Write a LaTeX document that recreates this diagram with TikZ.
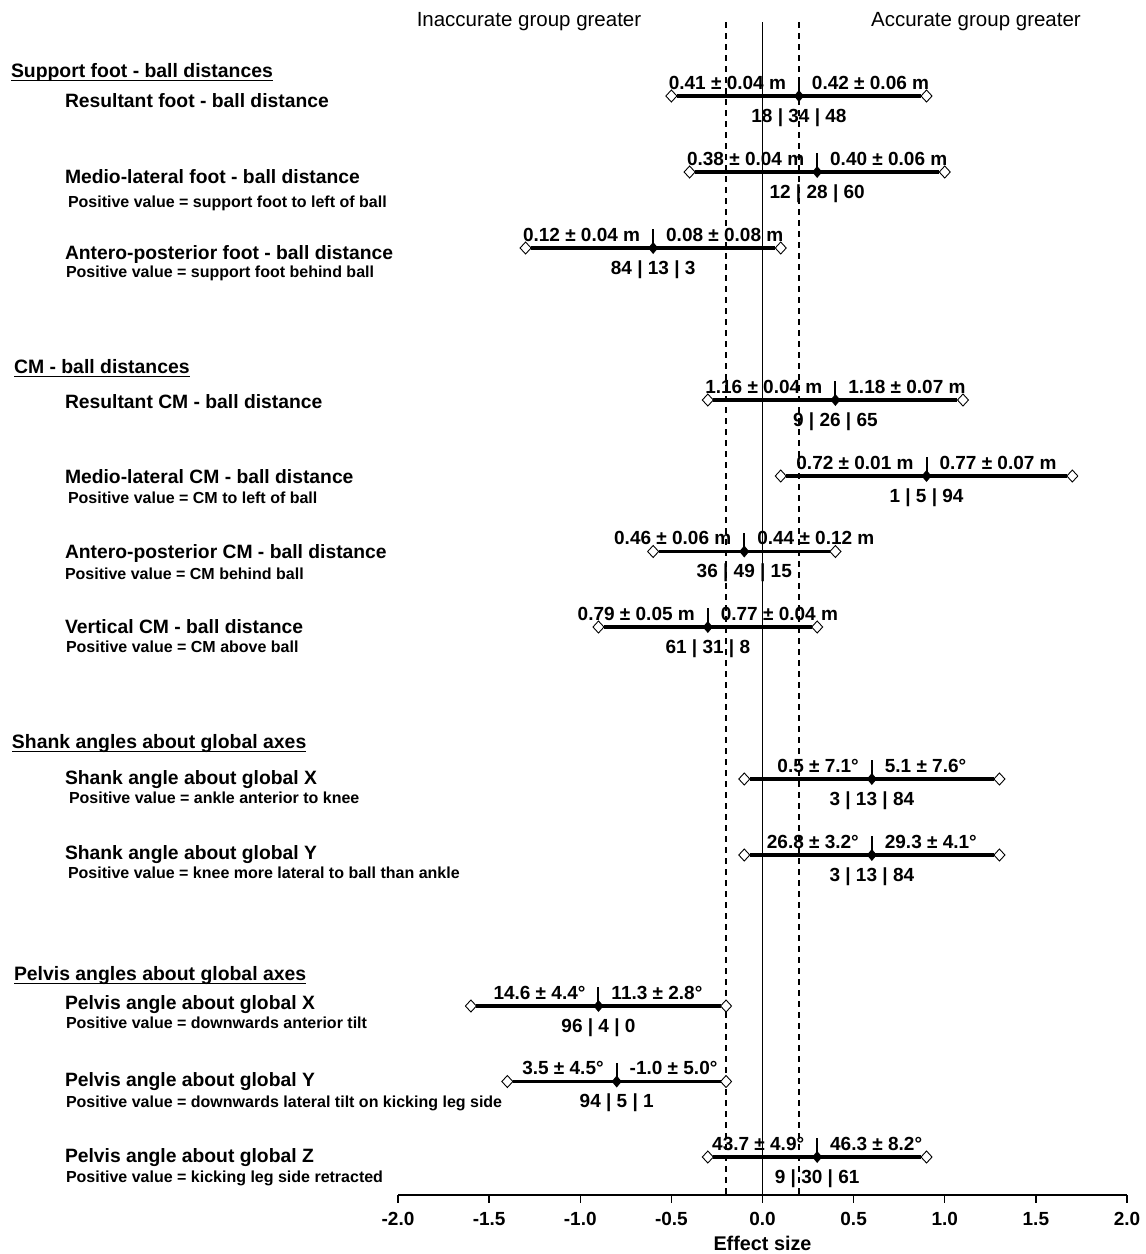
\documentclass[tikz,border=0pt]{standalone}
\usepackage{fontspec}
\setmainfont{Liberation Sans}
\usetikzlibrary{shapes.geometric,calc}
\newcommand{\fprow}[8]{%
  \coordinate (#1lo) at ({762.5+182.25*(#3)},#2);
  \coordinate (#1mc) at ({762.5+182.25*(#4)},#2);
  \coordinate (#1hi) at ({762.5+182.25*(#5)},#2);
  \node[opendia] (#1L) at (#1lo) {};
  \node[opendia] (#1R) at (#1hi) {};
  \draw[ciline] (#1L.east) -- (#1R.west);
  \coordinate (#1top) at ($(#1mc)+(0,-19)$);
  \draw[meantick] (#1mc) -- (#1top);
  \node[meandia] (#1M) at (#1mc) {};
  \node[val, anchor=base east] (#1a) at ($(#1mc)+(-13,-7)$) {#6};
  \node[val, anchor=base west] (#1b) at ($(#1mc)+(13,-7)$) {#7};
  \node[pct] (#1p) at ($(#1mc)+(0,26)$) {#8};
}
\begin{document}
\begin{tikzpicture}[x=1pt,y=-1pt,
  every node/.style={inner sep=0pt, outer sep=0pt},
  hdr/.style={anchor=base west, font=\fontsize{19.4}{22}\selectfont\bfseries},
  lbl/.style={anchor=base west, font=\fontsize{19.3}{22}\selectfont\bfseries},
  note/.style={anchor=base west, font=\fontsize{16}{18}\selectfont\bfseries},
  val/.style={font=\fontsize{19}{22}\selectfont\bfseries},
  pct/.style={anchor=base, font=\fontsize{19}{22}\selectfont\bfseries},
  ticklbl/.style={anchor=base, font=\fontsize{19}{22}\selectfont\bfseries},
  axttl/.style={anchor=base, font=\fontsize{19.8}{22}\selectfont\bfseries},
  grp/.style={anchor=base, font=\fontsize{20.5}{24}\selectfont},
  ciline/.style={line width=3.2pt},
  opendia/.style={diamond, draw, fill=white, line width=0.9pt, minimum width=11pt, minimum height=12pt},
  meandia/.style={diamond, fill=black, minimum width=10pt, minimum height=12pt},
  meantick/.style={line width=2pt},
  zeroline/.style={line width=1.3pt},
  refline/.style={line width=1.2pt, dash pattern=on 6pt off 5pt},
  axisline/.style={line width=1.6pt},
  tickmark/.style={line width=1.4pt},
  uline/.style={line width=1.3pt},
]
\fill[white] (0,0) rectangle (1146,1254);
\useasboundingbox (0,0) rectangle (1146,1254);

% group labels
\node[grp] (ginacc) at (529,26) {Inaccurate group greater};
\node[grp] (gacc) at (976,26) {Accurate group greater};

% axis
\coordinate (axL) at (398,1195);
\coordinate (axR) at (1127,1195);
\coordinate (zt) at (762.5,22);
\coordinate (zb) at (762.5,1195);
\coordinate (dlt) at (726,22);
\coordinate (dlb) at (726,1195);
\coordinate (drt) at (799,22);
\coordinate (drb) at (799,1195);
\draw[refline] (dlt) -- (dlb);
\draw[refline] (drt) -- (drb);
\draw[zeroline] (zt) -- (zb);
\draw[axisline] (axL) -- (axR);
\foreach \v/\t [count=\i] in {-2/-2.0,-1.5/-1.5,-1/-1.0,-0.5/-0.5,0/0.0,0.5/0.5,1/1.0,1.5/1.5,2/2.0}{
  \coordinate (tk\i) at ({762.5+182.25*(\v)},1195);
  \draw[tickmark] (tk\i) -- ++(0,8);
  \node[ticklbl] (tl\i) at ({762.5+182.25*(\v)},1225) {\t};
}
\node[axttl] (axt) at (762.5,1250) {Effect size};

% section headers
\node[hdr] (h1) at (11,77) {Support foot - ball distances};
\node[hdr] (h2) at (14,373) {CM - ball distances};
\node[hdr] (h3) at (12,748) {Shank angles about global axes};
\node[hdr] (h4) at (14,980) {Pelvis angles about global axes};
\foreach \h in {h1,h2,h3,h4}{
  \draw[uline] ([yshift=-3.3pt]\h.base west) -- ([yshift=-3.3pt]\h.base east);
}

% row labels
\node[lbl] (l1) at (65,107) {Resultant foot - ball distance};
\node[lbl] (l2) at (65,183) {Medio-lateral foot - ball distance};
\node[note] (n2) at (68,207) {Positive value = support foot to left of ball};
\node[lbl] (l3) at (65,259) {Antero-posterior foot - ball distance};
\node[note] (n3) at (66,277) {Positive value = support foot behind ball};
\node[lbl] (l4) at (65,408) {Resultant CM - ball distance};
\node[lbl] (l5) at (65,483) {Medio-lateral CM - ball distance};
\node[note] (n5) at (68,503) {Positive value = CM to left of ball};
\node[lbl] (l6) at (65,558) {Antero-posterior CM - ball distance};
\node[note] (n6) at (65,579) {Positive value = CM behind ball};
\node[lbl] (l7) at (65,633) {Vertical CM - ball distance};
\node[note] (n7) at (66,652) {Positive value = CM above ball};
\node[lbl] (l8) at (65,784) {Shank angle about global X};
\node[note] (n8) at (69,803) {Positive value = ankle anterior to knee};
\node[lbl] (l9) at (65,859) {Shank angle about global Y};
\node[note] (n9) at (68,878) {Positive value = knee more lateral to ball than ankle};
\node[lbl] (l10) at (65,1009) {Pelvis angle about global X};
\node[note] (n10) at (66,1028) {Positive value = downwards anterior tilt};
\node[lbl] (l11) at (65,1086) {Pelvis angle about global Y};
\node[note] (n11) at (66,1107) {Positive value = downwards lateral tilt on kicking leg side};
\node[lbl] (l12) at (65,1162) {Pelvis angle about global Z};
\node[note] (n12) at (66,1182) {Positive value = kicking leg side retracted};

% data rows
\fprow{ra}{96}{-0.5}{0.2}{0.9}{0.41 ± 0.04 m}{0.42 ± 0.06 m}{18 | 34 | 48}
\fprow{rb}{172}{-0.4}{0.3}{1.0}{0.38 ± 0.04 m}{0.40 ± 0.06 m}{12 | 28 | 60}
\fprow{rc}{248}{-1.3}{-0.6}{0.1}{0.12 ± 0.04 m}{0.08 ± 0.08 m}{84 | 13 | 3}
\fprow{rd}{400}{-0.3}{0.4}{1.1}{1.16 ± 0.04 m}{1.18 ± 0.07 m}{9 | 26 | 65}
\fprow{re}{476}{0.1}{0.9}{1.7}{0.72 ± 0.01 m}{0.77 ± 0.07 m}{1 | 5 | 94}
\fprow{rf}{551.5}{-0.6}{-0.1}{0.4}{0.46 ± 0.06 m}{0.44 ± 0.12 m}{36 | 49 | 15}
\fprow{rg}{627}{-0.9}{-0.3}{0.3}{0.79 ± 0.05 m}{0.77 ± 0.04 m}{61 | 31 | 8}
\fprow{rh}{779}{-0.1}{0.6}{1.3}{0.5 ± 7.1°}{5.1 ± 7.6°}{3 | 13 | 84}
\fprow{ri}{855}{-0.1}{0.6}{1.3}{26.8 ± 3.2°}{29.3 ± 4.1°}{3 | 13 | 84}
\fprow{rj}{1006}{-1.6}{-0.9}{-0.2}{14.6 ± 4.4°}{11.3 ± 2.8°}{96 | 4 | 0}
\fprow{rk}{1081.5}{-1.4}{-0.8}{-0.2}{3.5 ± 4.5°}{-1.0 ± 5.0°}{94 | 5 | 1}
\fprow{rl}{1157}{-0.3}{0.3}{0.9}{43.7 ± 4.9°}{46.3 ± 8.2°}{9 | 30 | 61}
\end{tikzpicture}
\end{document}
